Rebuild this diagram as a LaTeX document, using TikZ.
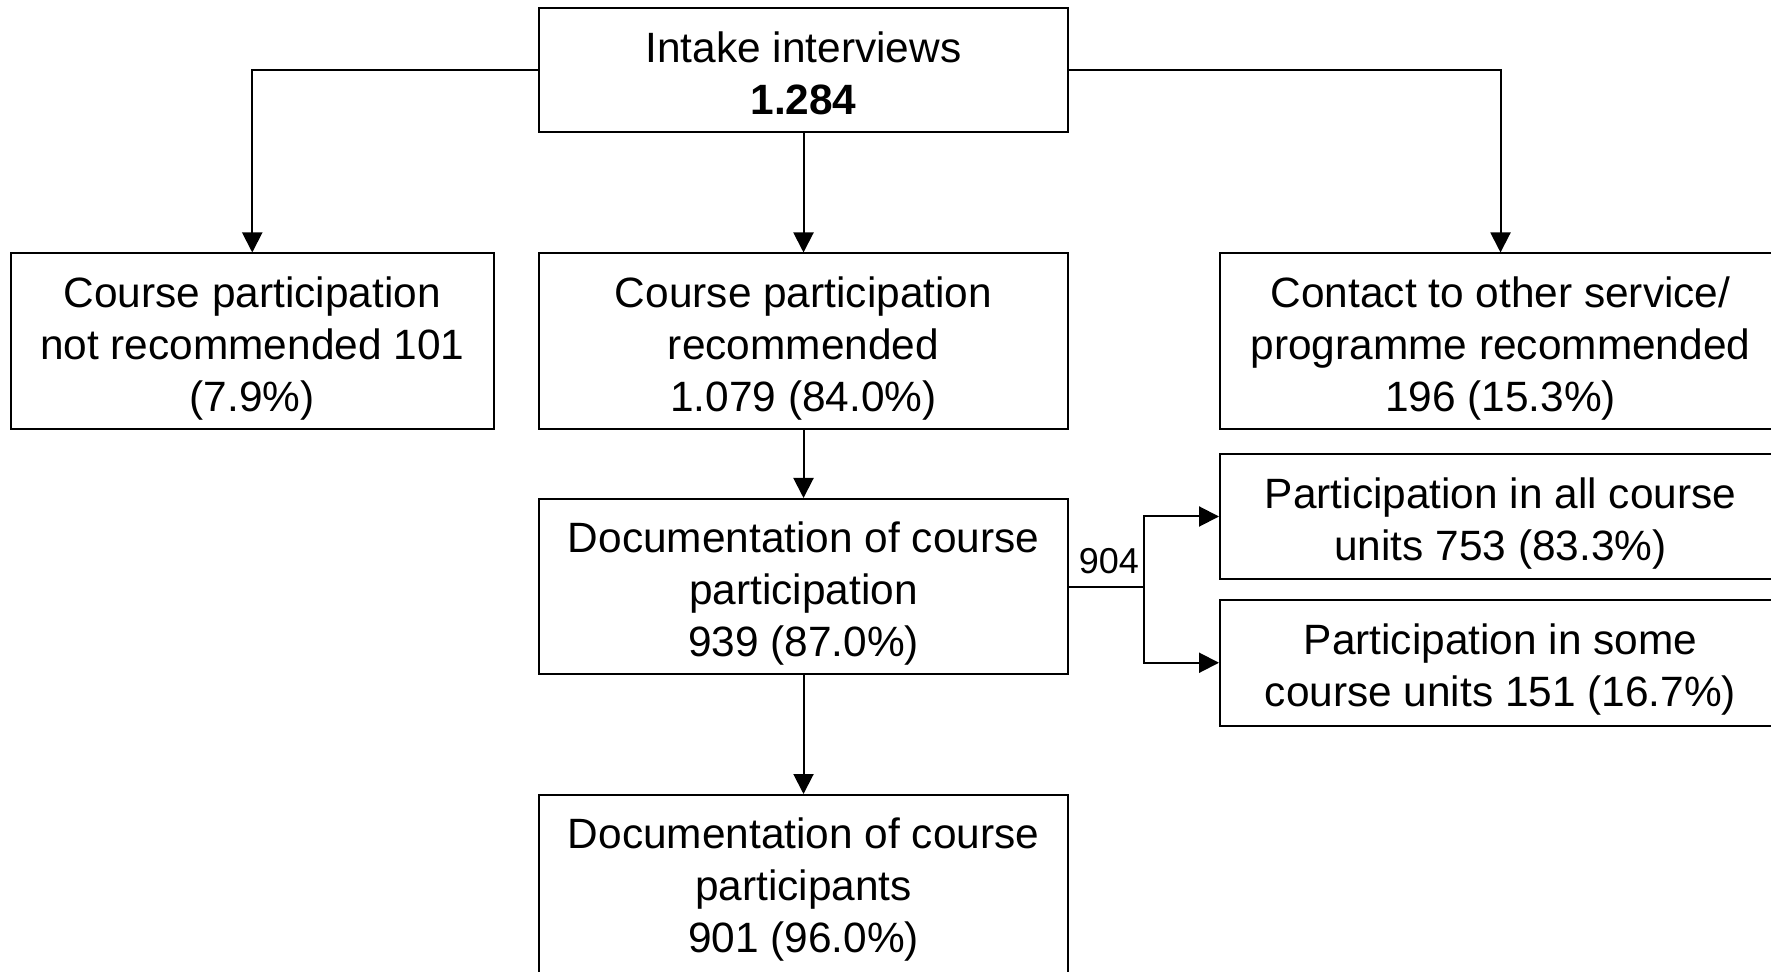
\documentclass[tikz,border=0pt]{standalone}
\usepackage{fontspec}
\setmainfont{Liberation Sans}
\usetikzlibrary{positioning,arrows.meta}
\tikzset{
  block/.style={align=center,rectangle,draw,inner sep=2pt,text depth=0pt,font=\fontsize{21.2}{26}\selectfont},
  lines2/.style={block,text height=43.6pt},
  lines3/.style={block,text height=70.2pt},
  count/.style={inner sep=0pt,font=\fontsize{18}{21}\selectfont},
  >={Triangle[length=10pt,width=10pt]}
}

\begin{document}
\begin{tikzpicture}[->,x=0.5pt,y=-0.5pt,line width=1pt]
    \clip (0,0) rectangle (1771,972);
    \node at (803.5, 70.5) [lines2, text height=44.1pt, minimum width=264.5pt, minimum height=62pt] (intake) {Intake interviews\\\textbf{1.284}};
    \node at (252.25, 341.5) [lines3, minimum width=241.75pt, minimum height=88pt] (notrec) {Course participation\\not recommended 101\\(7.9\%)};
    \node at (803.5, 341.5) [lines3, minimum width=264.5pt, minimum height=88pt] (rec) {Course participation\\recommended\\1.079 (84.0\%)};
    \node at (1500.5, 341.5) [lines3, minimum width=280.5pt, minimum height=88pt] (contact) {Contact to other service/\\programme recommended\\196 (15.3\%)};
    \node at (803.5, 586.5) [lines3, minimum width=264.5pt, minimum height=87.5pt] (docpart) {Documentation of course\\participation\\939 (87.0\%)};
    \node at (1500.5, 516.5) [lines2, minimum width=280.5pt, minimum height=62.5pt] (allunits) {Participation in all course\\units 753 (83.3\%)};
    \node at (1500.5, 662.75) [lines2, minimum width=280.5pt, minimum height=62.75pt] (someunits) {Participation in some\\course units 151 (16.7\%)};
    \node at (803.5, 886) [lines3, text height=66.2pt, minimum width=264.5pt, minimum height=91pt] (docppl) {Documentation of course\\participants\\901 (96.0\%)};
    \coordinate (split) at (1144, 586.5);
    \node [count, above left=6pt and 2pt of split] (total) {904};

    \draw (intake.west) -| (notrec.north);
    \draw (intake.east) -| (contact.north);
    \path
    (intake) edge (rec)
    (rec) edge (docpart)
    (docpart) edge (docppl);

    \draw[-] (docpart.east) -- (split);
    \draw (split) |- (allunits.west);
    \draw (split) |- (someunits.west);

\end{tikzpicture}
\end{document}
